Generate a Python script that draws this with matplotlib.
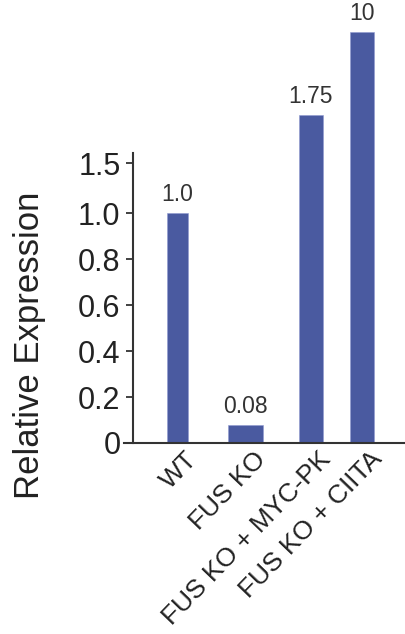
import numpy as np
import matplotlib
matplotlib.use("Agg")
import matplotlib.pyplot as plt
from matplotlib.transforms import ScaledTranslation

plt.rcParams['font.family'] = ['Liberation Sans', 'DejaVu Sans']

# data
categories = ["WT", "FUS KO", "FUS KO + MYC-PK", "FUS KO + CIITA"]
values = [1.0, 0.08, 1.75, 10]
value_labels = ["1.0", "0.08", "1.75", "10"]
ytick_values = [0, 0.2, 0.4, 0.6, 0.8, 1.0, 1.5]
ytick_labels = ["0", "0.2", "0.4", "0.6", "0.8", "1.0", "1.5"]

# layout / style
x_pos = [0, 1.11, 2.17, 3.0]
bar_widths = [0.34, 0.57, 0.39, 0.39]
bar_color = "#4a5aa0"
ink = "#222222"

# compressed value axis above 1.0 (piecewise linear)
knots_val = np.array([0, 1.0, 1.5, 1.75, 10.0])
knots_pos = np.array([0, 1.0, 1.217, 1.426, 1.787])

def fwd(v):
    return np.interp(v, knots_val, knots_pos)

def inv(p):
    return np.interp(p, knots_pos, knots_val)

W, H = 405, 634
fig = plt.figure(figsize=(W / 100, H / 100), dpi=100)
ax = fig.add_axes([124 / W, (H - 443) / H, 1 - 124 / W, (443 - 32) / H])
ax.set_yscale("function", functions=(fwd, inv))
ax.set_ylim(0, 10)
ax.set_xlim(-0.87, 3.70)

bars = ax.bar(x_pos, values, width=bar_widths, color=bar_color,
              edgecolor="#8f9ad0", linewidth=0.4, zorder=2)

for xp, v, lab in zip(x_pos, values, value_labels):
    ax.annotate(lab, (xp, v), xytext=(0, 5), textcoords="offset points",
                ha="center", va="bottom", fontsize=16.5, color="#333333",
                annotation_clip=False)

for s in ("top", "right"):
    ax.spines[s].set_visible(False)
ax.spines["left"].set_position(("axes", 9 / 281))
ax.spines["left"].set_bounds(0, 1.55)
for s in ("left", "bottom"):
    ax.spines[s].set_color("#333333")
    ax.spines[s].set_linewidth(1.5)

ax.set_yticks(ytick_values)
ax.set_yticklabels(ytick_labels)
ax.yaxis.set_minor_locator(matplotlib.ticker.NullLocator())
ax.tick_params(axis="y", direction="out", length=5, width=1.3, color="#333333",
               labelsize=22, labelcolor=ink, pad=4)

ax.set_xticks(x_pos)
ax.set_xticklabels(categories)
ax.tick_params(axis="x", length=0, pad=9, labelsize=19, labelcolor=ink)
shift = ScaledTranslation(16 / 100, 0, fig.dpi_scale_trans)
for t in ax.get_xticklabels():
    t.set_rotation(46)
    t.set_rotation_mode("anchor")
    t.set_ha("right")
    t.set_va("center")
    t.set_transform(t.get_transform() + shift)

fig.text(30 / W, 1 - 345 / H, "Relative Expression", rotation=90,
         ha="center", va="center", fontsize=25, color=ink)

fig.savefig("out.png", dpi=100)
